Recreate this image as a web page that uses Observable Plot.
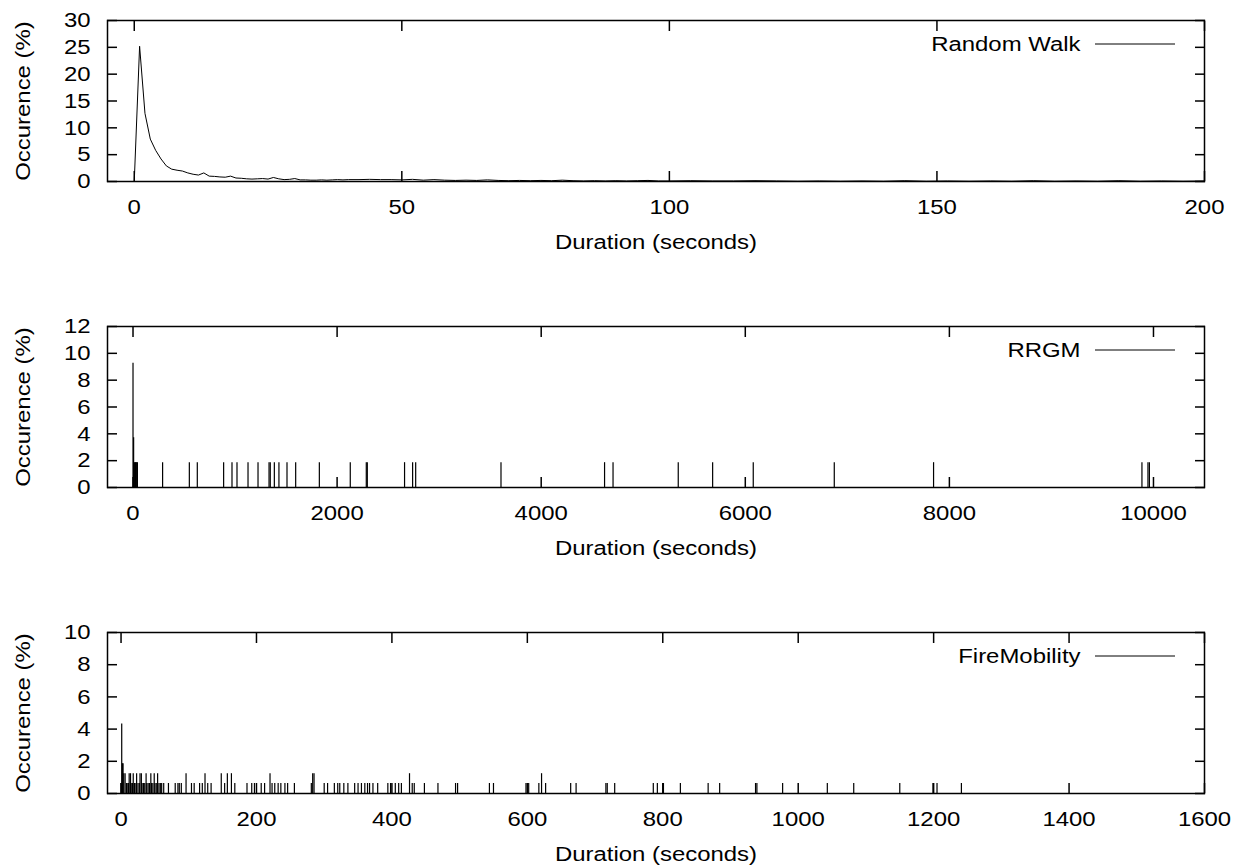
<!DOCTYPE html>
<html><head><meta charset="utf-8">
<script src="https://cdn.jsdelivr.net/npm/d3@7"></script>
<script src="https://cdn.jsdelivr.net/npm/@observablehq/plot@0.6"></script>
<style>
body{margin:0;background:#fff;}
#chart{width:1236px;}
#chart svg{display:block;}
</style></head><body><div id="chart"></div>
<script>
// ---- Random Walk (line) ----
const rwX = [0,1,2,3,4,5,6,7,8,9,10,11,12,13,14,15,16,17,18,19,20,21,22,23,24,25,26,27,28,29,30,31,32,33,34,35,36,37,38,39,40,
  42,44,46,48,50,52,54,56,58,60,62,64,66,68,70,72,74,76,78,80,82,84,86,88,90,92,94,96,98,100,
  104,108,112,116,120,124,128,132,136,140,144,148,152,156,160,164,168,172,176,180,184,188,192,196,200];
const rwY = [0,25.2,12.7,7.9,5.8,4.2,2.9,2.3,2.1,1.95,1.6,1.35,1.2,1.6,1.0,0.95,0.85,0.8,1.0,0.65,0.6,0.5,0.45,0.5,0.55,0.45,0.75,0.5,0.35,0.4,0.55,0.3,0.3,0.25,0.25,0.3,0.25,0.3,0.35,0.3,0.35,
  0.35,0.4,0.35,0.35,0.3,0.4,0.25,0.35,0.25,0.2,0.25,0.2,0.3,0.2,0.15,0.2,0.15,0.2,0.15,0.25,0.15,0.1,0.15,0.1,0.15,0.1,0.15,0.2,0.1,0.1,
  0.15,0.1,0.1,0.15,0.1,0.05,0.1,0.05,0.1,0.05,0.15,0.05,0.1,0.05,0.1,0.05,0.15,0.05,0.1,0.05,0.15,0.05,0.1,0.05,0.1];

// ---- RRGM (impulses) ----
const rrgmX = [0,6,13,19,25,31,37,43,290,552,630,888,970,1019,1127,1225,1333,1345,1385,1430,1509,1594,1826,2129,2286,2296,2661,2740,2770,3606,4621,4704,5343,5680,6078,6872,7845,9887,9946,9960];
const rrgmY = [9.26,3.7,1.85,1.85,1.85,1.85,1.85,1.85,1.85,1.85,1.85,1.85,1.85,1.85,1.85,1.85,1.85,1.85,1.85,1.85,1.85,1.85,1.85,1.85,1.85,1.85,1.85,1.85,1.85,1.85,1.85,1.85,1.85,1.85,1.85,1.85,1.85,1.85,1.85,1.85];

// ---- FireMobility (impulses) ----
const fireX = [0,1,2,3,4,6,8,9,11,12,14,15,17,18,20,22,23,25,27,28,30,31,33,35,37,38,40,42,44,45,47,49,50,52,54,56,58,60,63,70,80,84,86,89,96,104,108,116,120,124,128,133,148,153,157,163,168,186,193,197,207,212,220,223,227,232,236,242,246,256,281,283,285,300,305,315,320,323,329,335,345,350,355,360,364,367,372,379,394,398,405,410,414,426,430,433,448,468,494,497,544,550,598,602,617,621,627,664,672,716,718,729,786,792,801,826,867,884,937,939,977,1043,1082,1150,1199,1205,1241,1552];
const fireY = [0.62,4.32,1.85,1.85,1.23,1.23,0.62,0.62,0.62,1.23,1.23,0.62,0.62,1.23,0.62,0.62,1.23,0.62,0.62,1.23,1.23,0.62,0.62,0.62,1.23,0.62,0.62,0.62,1.23,0.62,0.62,1.23,0.62,0.62,1.23,0.62,0.62,0.62,0.62,0.62,0.62,0.62,0.62,0.62,1.23,0.62,0.62,0.62,0.62,1.23,0.62,0.62,1.23,0.62,1.23,1.23,0.62,0.62,0.62,0.62,0.62,0.62,1.23,0.62,0.62,0.62,0.62,0.62,0.62,0.62,0.62,1.23,1.23,0.62,0.62,0.62,0.62,0.62,0.62,0.62,0.62,0.62,0.62,0.62,0.62,0.62,0.62,0.62,0.62,0.62,0.62,0.62,0.62,1.23,0.62,0.62,0.62,0.62,0.62,0.62,0.62,0.62,0.62,0.62,0.62,1.23,0.62,0.62,0.62,0.62,0.62,0.62,0.62,0.62,0.62,0.62,0.62,0.62,0.62,0.62,0.62,0.62,0.62,0.62,0.62,0.62,0.62];

// ---- axes / labels ----
const xLabel = "Duration (seconds)";
const yLabel = "Occurence (%)";
const rwXTicks = [0,50,100,150,200];
const rwYTicks = [0,5,10,15,20,25,30];
const rrgmXTicks = [0,2000,4000,6000,8000,10000];
const rrgmYTicks = [0,2,4,6,8,10,12];
const fireXTicks = [0,200,400,600,800,1000,1200,1400,1600];
const fireYTicks = [0,2,4,6,8,10];

const W = 1236, ML = 107, MR = 32, MT = 20;
const fmt = d => String(d);

function widenText(svg) {
  svg.querySelectorAll("text").forEach(t => {
    const tr = t.getAttribute("transform");
    if (tr) {
      t.setAttribute("transform", tr + " scale(1.14,1)");
    } else {
      const x = +(t.getAttribute("x") || 0), y = +(t.getAttribute("y") || 0);
      t.removeAttribute("x"); t.removeAttribute("y");
      t.setAttribute("transform", `translate(${x},${y}) scale(1.14,1)`);
    }
  });
}

function panel({mark, xDomain, yDomain, xTicks, yTicks, legend, height, marginBottom}) {
  const svg = Plot.plot({
    width: W, height, marginLeft: ML, marginRight: MR, marginTop: MT, marginBottom,
    style: {fontFamily: "'Liberation Sans', Arial, Helvetica, sans-serif", fontSize: "21px", background: "#fff", color: "#000", overflow: "visible"},
    x: {domain: xDomain},
    y: {domain: yDomain},
    marks: [
      mark,
      Plot.frame({stroke: "#000", strokeWidth: 1.5}),
      Plot.axisX(xTicks, {anchor: "bottom", tickSize: 0, tickPadding: 18, tickFormat: fmt, label: null, fill: "#000"}),
      Plot.axisX(xTicks, {anchor: "bottom", tickSize: 10, dy: -10, tickFormat: () => "", label: null, stroke: "#000", strokeWidth: 1.5}),
      Plot.axisX(xTicks, {anchor: "top", tickSize: 10, dy: 10, tickFormat: () => "", label: null, stroke: "#000", strokeWidth: 1.5}),
      Plot.axisY(yTicks, {anchor: "left", tickSize: 0, tickPadding: 17, tickFormat: fmt, label: null, fill: "#000"}),
      Plot.axisY(yTicks, {anchor: "left", tickSize: 10, dx: 10, tickFormat: () => "", label: null, stroke: "#000", strokeWidth: 1.5}),
      Plot.axisY(yTicks, {anchor: "right", tickSize: 10, dx: -10, tickFormat: () => "", label: null, stroke: "#000", strokeWidth: 1.5}),
      Plot.text([xLabel], {frameAnchor: "bottom", dy: 61, textAnchor: "middle", lineAnchor: "middle", fill: "#000"}),
      Plot.text([yLabel], {frameAnchor: "left", dx: -84, rotate: -90, textAnchor: "middle", lineAnchor: "middle", fill: "#000"}),
      Plot.text([legend], {frameAnchor: "top-right", dx: -124, dy: 24, textAnchor: "end", lineAnchor: "middle", fill: "#000"})
    ]
  });
  widenText(svg);
  // legend line sample
  d3.select(svg).append("line")
    .attr("x1", W - MR - 109).attr("x2", W - MR - 29)
    .attr("y1", MT + 24).attr("y2", MT + 24)
    .attr("stroke", "#000").attr("stroke-width", 1);
  return svg;
}

const rwData = rwX.map((x, i) => ({x, y: rwY[i]}));
const rrgmData = rrgmX.map((x, i) => ({x, y: rrgmY[i]}));
const fireData = fireX.map((x, i) => ({x, y: fireY[i]}));

const chart = document.getElementById("chart");
chart.appendChild(panel({
  mark: Plot.line(rwData, {x: "x", y: "y", stroke: "#000", strokeWidth: 1}),
  xDomain: [-5, 200], yDomain: [0, 30], xTicks: rwXTicks, yTicks: rwYTicks,
  legend: "Random Walk", height: 306, marginBottom: 125
}));
chart.appendChild(panel({
  mark: Plot.ruleX(rrgmData, {x: "x", y1: 0, y2: "y", stroke: "#000", strokeWidth: 1.2}),
  xDomain: [-250, 10500], yDomain: [0, 12], xTicks: rrgmXTicks, yTicks: rrgmYTicks,
  legend: "RRGM", height: 306, marginBottom: 125
}));
chart.appendChild(panel({
  mark: Plot.ruleX(fireData, {x: "x", y1: 0, y2: "y", stroke: "#000", strokeWidth: 1.2}),
  xDomain: [-20, 1600], yDomain: [0, 10], xTicks: fireXTicks, yTicks: fireYTicks,
  legend: "FireMobility", height: 253, marginBottom: 72
}));
</script></body></html>
